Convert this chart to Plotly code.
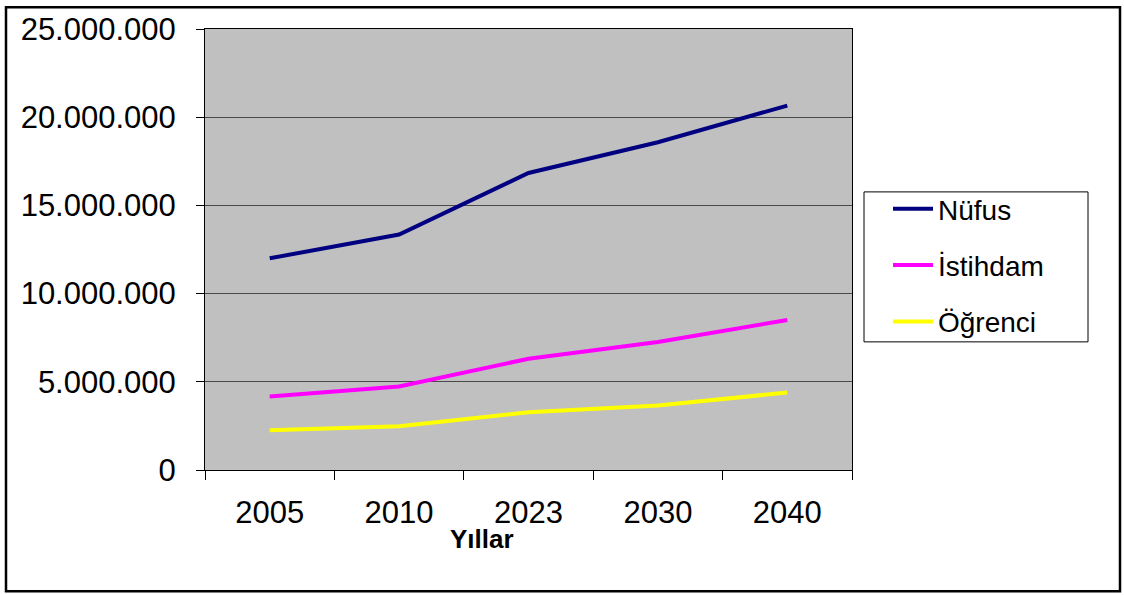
import plotly.graph_objects as go

years = ["2005", "2010", "2023", "2030", "2040"]
nufus = [12000000, 13350000, 16840000, 18580000, 20660000]
istihdam = [4170000, 4730000, 6310000, 7260000, 8500000]
ogrenci = [2250000, 2480000, 3270000, 3660000, 4390000]
y_ticks = [0, 5000000, 10000000, 15000000, 20000000, 25000000]

W, H = 1124, 595
L, R, T, B = 205, 852, 26, 470
pw, ph = R - L, B - T

def px(x):
    return (x - L) / pw

def py(y):
    return (B - y) / ph

font = "Liberation Sans, Arial, sans-serif"

fig = go.Figure()
series = [("Nüfus", nufus, "#000080"), ("İstihdam", istihdam, "#FF00FF"), ("Öğrenci", ogrenci, "#FFFF00")]
for name, vals, col in series:
    fig.add_trace(go.Scatter(x=years, y=vals, name=name, mode="lines", legendgroup=name,
                             line=dict(color=col, width=4)))

fig.update_layout(
    width=W, height=H,
    margin=dict(l=L, r=W - R, t=T, b=H - B, pad=0),
    paper_bgcolor="white", plot_bgcolor="#C0C0C0",
    separators=",.",
    font=dict(family=font, color="black", size=30),
    showlegend=True,
    legend=dict(x=px(888), y=py(182), xanchor="left", yanchor="top",
                borderwidth=0, bgcolor="rgba(0,0,0,0)",
                font=dict(family=font, size=28, color="black"),
                tracegroupgap=17, itemwidth=40),
    xaxis=dict(type="category", range=[-0.5, 4.5], showline=True, linecolor="black", linewidth=1,
               mirror=True, showgrid=False, ticks="outside", tickson="boundaries", ticklen=9,
               tickcolor="black", tickfont=dict(size=31), ticklabelstandoff=15),
    yaxis=dict(range=[0, 25000000], tickvals=y_ticks, tickformat=",d",
               showline=True, linecolor="black", linewidth=1, mirror=True,
               showgrid=True, gridcolor="#4a4a4a", gridwidth=1, zeroline=False,
               ticks="outside", ticklen=8, tickcolor="black",
               tickfont=dict(size=31), ticklabelstandoff=14),
)

fig.add_annotation(text="<b>Yıllar</b>", xref="paper", yref="paper", x=px(482), y=py(539),
                   showarrow=False, font=dict(family=font, size=26, color="black"),
                   xanchor="center", yanchor="middle")

# legend frame
fig.add_shape(type="rect", xref="paper", yref="paper",
              x0=px(864), x1=px(1088), y0=py(341), y1=py(190),
              line=dict(color="black", width=1), fillcolor="white", layer="below")

# outer chart border
fig.add_shape(type="rect", xref="paper", yref="paper",
              x0=px(6), x1=px(1120), y0=py(592), y1=py(4),
              line=dict(color="black", width=2.5), layer="above")

fig.write_html("out.html", config={"displayModeBar": False},
               post_script="document.body.style.margin='0';document.body.style.overflow='hidden';")
